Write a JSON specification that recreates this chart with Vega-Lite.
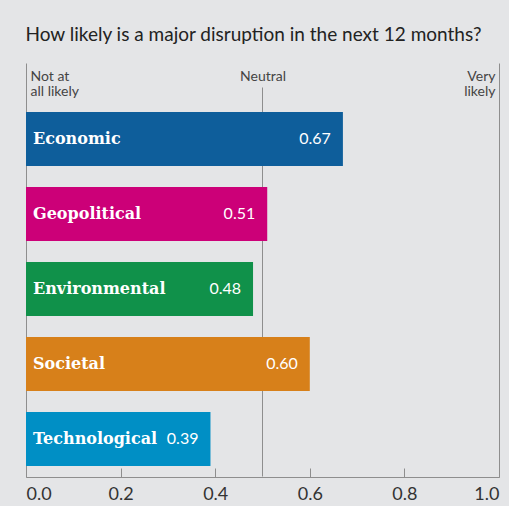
{
  "$schema": "https://vega.github.io/schema/vega-lite/v6.json",
  "width": 473,
  "height": 414,
  "autosize": {"type": "none"},
  "padding": {"left": 26, "top": 63, "right": 10, "bottom": 29},
  "background": "#e4e5e7",
  "config": {"view": {"stroke": null}},
  "title": {
    "text": "How likely is a major disruption in the next 12 months?",
    "anchor": "start",
    "offset": 18,
    "fontSize": 19,
    "font": "Lato",
    "fontWeight": "normal",
    "color": "#222222"
  },
  "data": {
    "values": [
      {"category": "Economic", "value": 0.67},
      {"category": "Geopolitical", "value": 0.51},
      {"category": "Environmental", "value": 0.48},
      {"category": "Societal", "value": 0.60},
      {"category": "Technological", "value": 0.39}
    ]
  },
  "resolve": {"axis": {"x": "independent"}},
  "layer": [
    {
      "mark": {"type": "tick", "orient": "vertical", "size": 75, "thickness": 1, "color": "#8e8e8e", "opacity": 1},
      "encoding": {
        "x": {
          "datum": 0.5,
          "type": "quantitative",
          "axis": {
            "orient": "top",
            "values": [0, 0.5, 1],
            "labelExpr": "datum.value == 0 ? ['Not at', 'all likely'] : datum.value == 1 ? ['Very', 'likely'] : 'Neutral'",
            "labelFlush": true,
            "labelFlushOffset": -4,
            "domain": false,
            "ticks": false,
            "grid": false,
            "offset": -17,
            "labelPadding": 0,
            "labelBaseline": "alphabetic",
            "labelFont": "Lato",
            "labelFontSize": 14,
            "labelLineHeight": 15,
            "labelColor": "#444444",
            "labelOverlap": false,
            "title": null
          }
        },
        "y": {"field": "category", "type": "nominal", "axis": null}
      }
    },
    {
      "mark": {"type": "tick", "orient": "vertical", "size": 75, "thickness": 1, "yOffset": -14, "color": "#8e8e8e", "opacity": 1},
      "encoding": {
        "x": {"datum": 0.5, "type": "quantitative", "axis": null},
        "y": {"field": "category", "type": "nominal", "axis": null}
      }
    },
    {
      "mark": {"type": "bar"},
      "encoding": {
        "x": {
          "field": "value",
          "type": "quantitative",
          "scale": {"domain": [0, 1], "nice": false},
          "axis": {
            "values": [0, 0.2, 0.4, 0.6, 0.8, 1],
            "format": ".1f",
            "grid": true,
            "gridColor": "#8e8e8e",
            "gridOpacity": {"condition": {"test": "datum.value == 0 || datum.value == 1", "value": 1}, "value": 0},
            "title": null,
            "domainColor": "#8e8e8e",
            "tickColor": "#8e8e8e",
            "tickSize": -9,
            "labelPadding": 17,
            "labelFont": "Lato",
            "labelFontSize": 18,
            "labelColor": "#333333"
          }
        },
        "y": {
          "field": "category",
          "type": "nominal",
          "axis": null,
          "scale": {
            "domain": ["Economic", "Geopolitical", "Environmental", "Societal", "Technological"],
            "paddingInner": 0.28,
            "paddingOuter": 0.4,
            "align": 0.8167
          }
        },
        "color": {
          "field": "category",
          "type": "nominal",
          "scale": {
            "domain": ["Economic", "Geopolitical", "Environmental", "Societal", "Technological"],
            "range": ["#0e5e9b", "#cc0078", "#10914a", "#d7801a", "#008fc5"]
          },
          "legend": null
        }
      }
    },
    {
      "mark": {"type": "text", "align": "left", "baseline": "middle", "dx": 7, "font": "DejaVu Serif", "fontWeight": "bold", "fontSize": 16, "color": "white"},
      "encoding": {
        "x": {"datum": 0, "type": "quantitative", "axis": null},
        "y": {"field": "category", "type": "nominal", "axis": null},
        "text": {"field": "category", "type": "nominal"}
      }
    },
    {
      "mark": {"type": "text", "align": "right", "baseline": "middle", "dx": -12, "font": "Lato", "fontSize": 16, "color": "white"},
      "encoding": {
        "x": {"field": "value", "type": "quantitative", "axis": null},
        "y": {"field": "category", "type": "nominal", "axis": null},
        "text": {"field": "value", "type": "quantitative", "format": ".2f"}
      }
    }
  ]
}
